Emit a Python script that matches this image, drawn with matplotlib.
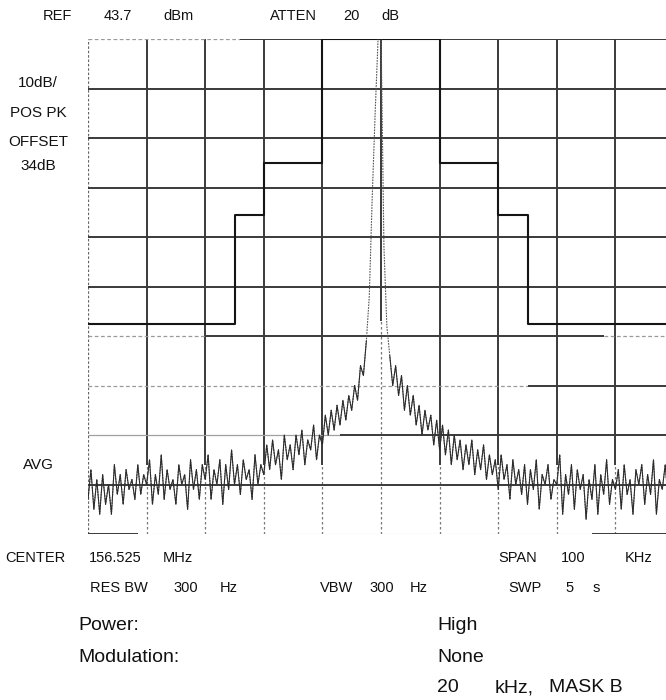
import numpy as np
import matplotlib.pyplot as plt

plt.rcParams['font.family'] = ['Liberation Sans', 'DejaVu Sans']

# frequency offset from centre, kHz (0.5 kHz steps) and measured level, dB below REF
freq_khz = np.arange(-50, 50.5, 0.5)
level_db = [
    -93, -87, -95, -89, -96, -88, -94, -90, -96, -86,
    -92, -88, -94, -87, -91, -89, -93, -86, -92, -88,
    -90, -85, -94, -88, -92, -84, -93, -87, -91, -89,
    -94, -86, -90, -88, -95, -85, -91, -87, -93, -86,
    -89, -84, -93, -87, -90, -85, -94, -86, -91, -83,
    -90, -86, -92, -85, -89, -87, -93, -84, -90, -86,
    -88, -82, -87, -81, -86, -83, -89, -80, -85, -82,
    -87, -80, -84, -79, -86, -81, -83, -78, -85, -80,
    -82, -76, -80, -75, -79, -74, -78, -73, -77, -72,
    -75, -70, -73, -66, -68, -61, -52, -32, -15, 0,
    2, -42, -58, -64, -70, -66, -72, -68, -75, -70,
    -76, -72, -78, -74, -80, -75, -79, -76, -82, -77,
    -83, -78, -84, -79, -86, -80, -85, -81, -87, -82,
    -86, -81, -88, -83, -87, -82, -89, -84, -88, -85,
    -91, -84, -89, -86, -93, -85, -90, -87, -92, -86,
    -94, -87, -91, -85, -95, -88, -90, -86, -93, -89,
    -90, -84, -96, -88, -92, -86, -95, -87, -91, -88,
    -97, -89, -93, -86, -96, -88, -92, -85, -94, -89,
    -91, -87, -95, -86, -92, -89, -96, -87, -90, -86,
    -94, -88, -92, -85, -96, -89, -91, -86, -93, -84,
    -90,
]

# emission mask B
mask_khz = [-50, -25, -25, -20, -20, -10, -10, 10, 10, 20, 20, 25, 25, 50]
mask_db = [-57.5, -57.5, -35.5, -35.5, -25, -25, 0, 0, -25, -25, -35.5, -35.5, -57.5, -57.5]

fig = plt.figure(figsize=(6.66, 7.0), dpi=100)
ax = fig.add_axes([88 / 666, 1 - 534 / 700, 586 / 666, 495 / 700])
ax.set_xlim(-50, 50)
ax.set_ylim(-100, 0)
ax.axis('off')

dark = dict(color='#3a3a3a', lw=1.4)
faint = dict(color='#9a9a9a', lw=0.9, linestyles=(0, (3, 2)))

# graticule (the scan fades in places)
ax.vlines(-50, -100, 0, color='#666666', lw=0.9, linestyles=(0, (2, 1.5)))
for x in range(-40, 51, 10):
    low = -57 if x == 0 else -86
    ax.vlines(x, low, 0, **dark)
    ax.vlines(x, -100, low, color='#777777', lw=0.9, linestyles=(0, (2, 2)))

ax.hlines(0, -50, -24, **faint)
ax.hlines(0, -24, 50, **dark)
for y in (-10, -20, -30, -40, -50, -90):
    ax.hlines(y, -50, 50, **dark)
ax.hlines(-60, -50, -30, **faint)
ax.hlines(-60, -30, 38, **dark)
ax.hlines(-60, 38, 50, **faint)
ax.hlines(-70, -50, 25, **faint)
ax.hlines(-70, 25, 50, **dark)
ax.hlines(-80, -50, -7, color='#a0a0a0', lw=0.9)
ax.hlines(-80, -7, 50, **dark)
ax.hlines(-100, -50, -41.5, **dark)
ax.hlines(-100, -41.5, 36, color='#bbbbbb', lw=0.8)
ax.hlines(-100, 36, 50, **dark)

# mask
ax.plot(mask_khz, mask_db, color='#151515', lw=1.5)

# trace: the carrier skirt prints faint and dotted, the noise floor solid
level = np.array(level_db, dtype=float)
ax.plot(freq_khz, level, color='#555555', lw=0.8, ls=(0, (1.5, 1)))
ax.plot(freq_khz, np.ma.masked_greater(level, -60), color='#2a2a2a', lw=0.75)


def label(x, y, s, size=10.5, ha='left'):
    fig.text(x / 666, 1 - y / 700, s, fontsize=size, ha=ha, va='center', color='#111111')


label(43, 16, 'REF')
label(104, 16, '43.7')
label(163, 16, 'dBm')
label(270, 16, 'ATTEN')
label(343, 16, '20')
label(381, 16, 'dB')

label(38, 83, '10dB/', 11, 'center')
label(38, 113, 'POS PK', 11, 'center')
label(38, 142, 'OFFSET', 11, 'center')
label(38, 166, '34dB', 11, 'center')
label(38, 465, 'AVG', 11, 'center')

label(5, 558, 'CENTER')
label(89, 558, '156.525')
label(163, 558, 'MHz')
label(498, 558, 'SPAN')
label(561, 558, '100')
label(625, 558, 'KHz')

label(90, 588, 'RES BW')
label(173, 588, '300')
label(220, 588, 'Hz')
label(320, 588, 'VBW')
label(369, 588, '300')
label(410, 588, 'Hz')
label(508, 588, 'SWP')
label(565, 588, '5')
label(593, 588, 's')

label(78, 625, 'Power:', 14)
label(437, 625, 'High', 14)
label(78, 657, 'Modulation:', 14)
label(437, 657, 'None', 14)
label(437, 688, '20', 14)
label(495, 688, 'kHz,', 14)
label(549, 688, 'MASK B', 14)

fig.savefig('out.png', dpi=100)
